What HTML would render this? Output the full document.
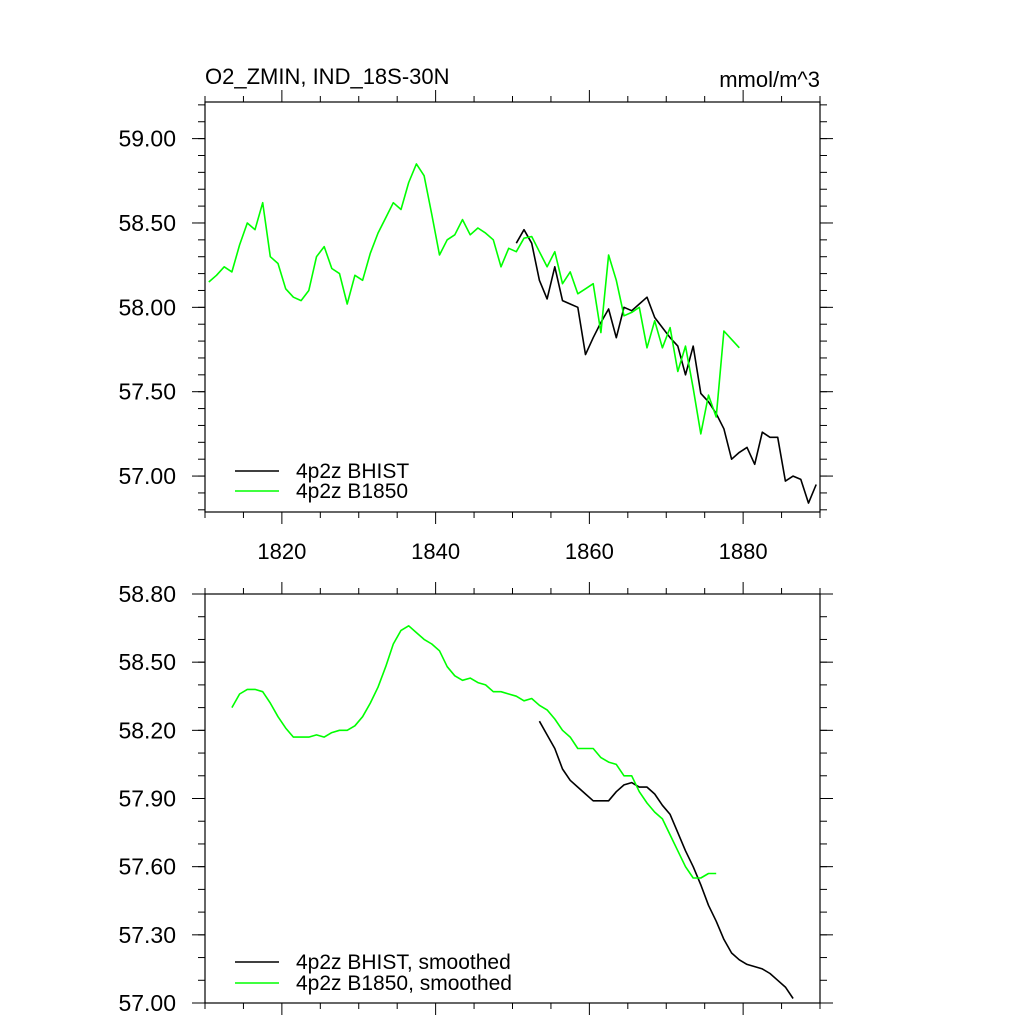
<!DOCTYPE html>
<html><head><meta charset="utf-8"><style>
html,body{margin:0;padding:0;background:#fff}
svg{display:block}
text{font-family:"Liberation Sans",Arial,sans-serif;fill:#000}
</style></head><body>
<svg id="chart" width="1024" height="1024" xmlns="http://www.w3.org/2000/svg">
<rect width="1024" height="1024" fill="#fff"/>
</svg>
<script>
const histStart = 1850.5;
const b1850Start = 1810.5;
const histRaw = [58.38,58.46,58.38,58.16,58.05,58.24,58.04,58.02,58.00,57.72,57.82,57.91,57.99,57.82,58.00,57.98,58.02,58.06,57.94,57.88,57.82,57.77,57.60,57.77,57.49,57.44,57.37,57.28,57.10,57.14,57.17,57.07,57.26,57.23,57.23,56.97,57.00,56.98,56.84,56.95];
const b1850Raw = [58.15,58.19,58.24,58.21,58.37,58.50,58.46,58.62,58.30,58.26,58.11,58.06,58.04,58.10,58.30,58.36,58.23,58.20,58.02,58.19,58.16,58.32,58.44,58.53,58.62,58.58,58.74,58.85,58.78,58.55,58.31,58.40,58.43,58.52,58.43,58.47,58.44,58.40,58.24,58.35,58.33,58.41,58.42,58.33,58.24,58.33,58.14,58.21,58.08,58.11,58.14,57.85,58.31,58.16,57.95,57.97,58.00,57.76,57.92,57.76,57.88,57.62,57.77,57.52,57.25,57.48,57.35,57.86,57.81,57.76];
const histSmoothStart = 1853.5;
const b1850SmoothStart = 1813.5;
const histSmooth = [58.24,58.18,58.12,58.03,57.98,57.95,57.92,57.89,57.89,57.89,57.93,57.96,57.97,57.95,57.95,57.92,57.87,57.83,57.75,57.67,57.60,57.52,57.43,57.36,57.28,57.22,57.19,57.17,57.16,57.15,57.13,57.10,57.07,57.02];
const b1850Smooth = [58.30,58.36,58.38,58.38,58.37,58.32,58.26,58.21,58.17,58.17,58.17,58.18,58.17,58.19,58.20,58.20,58.22,58.26,58.32,58.39,58.48,58.58,58.64,58.66,58.63,58.60,58.58,58.55,58.48,58.44,58.42,58.43,58.41,58.40,58.37,58.37,58.36,58.35,58.33,58.34,58.31,58.29,58.25,58.20,58.17,58.12,58.12,58.12,58.08,58.06,58.05,58.00,58.00,57.93,57.88,57.84,57.81,57.74,57.67,57.60,57.55,57.55,57.57,57.57];
const xTickLabels = ["1820","1840","1860","1880"];
const topYTicks = ["57.00","57.50","58.00","58.50","59.00"];
const botYTicks = ["57.00","57.30","57.60","57.90","58.20","58.50","58.80"];

const NS="http://www.w3.org/2000/svg";
const svg=document.getElementById('chart');
function mk(tag,attrs,parent){const e=document.createElementNS(NS,tag);for(const k in attrs)e.setAttribute(k,attrs[k]);(parent||svg).appendChild(e);return e;}
const X0=205,X1=820,YR0=1810,YR1=1890;
const xs=y=>X0+(y-YR0)*(X1-X0)/(YR1-YR0);

function panel(name,top,bot,vmin,vmax,ticks,minorStep,series,legend){
  const g=mk('g',{});
  
  
  const ys=v=>bot-(v-vmin)*(bot-top)/(vmax-vmin);
  series.forEach(s=>{
    const pts=s.vals.map((v,i)=>xs(s.start+i).toFixed(1)+','+ys(v).toFixed(1)).join(' ');
    const p=mk('polyline',{points:pts,fill:'none',stroke:s.color,'stroke-width':1.6,'stroke-linejoin':'round'},g);
    
    
  });
  const frame=mk('rect',{x:X0,y:top,width:X1-X0,height:bot-top,fill:'none',stroke:'#000','stroke-width':1.2},g);
  
  
  for(let yr=YR0;yr<=YR1;yr+=5){
    const x=xs(yr),maj=(yr%20===0);const L=maj?12:6;
    mk('line',{x1:x,x2:x,y1:bot,y2:bot+L,stroke:'#000','stroke-width':1},g);
    mk('line',{x1:x,x2:x,y1:top,y2:top-L,stroke:'#000','stroke-width':1},g);
  }
  const base=Math.ceil(vmin/minorStep-1e-6);
  for(let k=base;k*minorStep<=vmax+0.2;k++){
    const v=k*minorStep; const y=ys(v); if(y<top-0.5||y>bot+0.5)continue;
    mk('line',{x1:X0,x2:X0-7,y1:y,y2:y,stroke:'#000','stroke-width':1},g);
    mk('line',{x1:X1,x2:X1+7,y1:y,y2:y,stroke:'#000','stroke-width':1},g);
  }
  ticks.forEach(t=>{
    const y=ys(parseFloat(t));
    mk('line',{x1:X0,x2:X0-13,y1:y,y2:y,stroke:'#000','stroke-width':1},g);
    mk('line',{x1:X1,x2:X1+13,y1:y,y2:y,stroke:'#000','stroke-width':1},g);
    const tx=mk('text',{x:176,y:y+8,'text-anchor':'end','font-size':23},g);
    tx.textContent=t;
    
    
  });
  legend.forEach(l=>{
    mk('line',{x1:235,x2:279,y1:l.y,y2:l.y,stroke:l.color,'stroke-width':1.6},g);
    const t=mk('text',{x:296,y:l.y+7,'font-size':21},g);
    t.textContent=l.label;
    
    
  });
  return ys;
}
panel('top-panel',102,512,59.217-2.43,59.217,topYTicks,0.1,
  [{name:'bhist-line',color:'#000',start:histStart,vals:histRaw},
   {name:'b1850-line',color:'#00ff00',start:b1850Start,vals:b1850Raw}],
  [{y:471,color:'#000',label:'4p2z BHIST'},{y:491,color:'#00ff00',label:'4p2z B1850'}]);
panel('bottom-panel',594,1003,57.0,58.8,botYTicks,0.1,
  [{name:'bhist-smoothed-line',color:'#000',start:histSmoothStart,vals:histSmooth},
   {name:'b1850-smoothed-line',color:'#00ff00',start:b1850SmoothStart,vals:b1850Smooth}],
  [{y:962,color:'#000',label:'4p2z BHIST, smoothed'},{y:983,color:'#00ff00',label:'4p2z B1850, smoothed'}]);
xTickLabels.forEach(l=>{
  const t=mk('text',{x:xs(parseFloat(l)),y:559,'text-anchor':'middle','font-size':22});
  t.textContent=l;
  
  
});
const title=mk('text',{x:205,y:84,'font-size':22});
title.textContent='O2_ZMIN, IND_18S-30N';


const units=mk('text',{x:820,y:87,'text-anchor':'end','font-size':22});
units.textContent='mmol/m^3';


</script>
</body></html>
